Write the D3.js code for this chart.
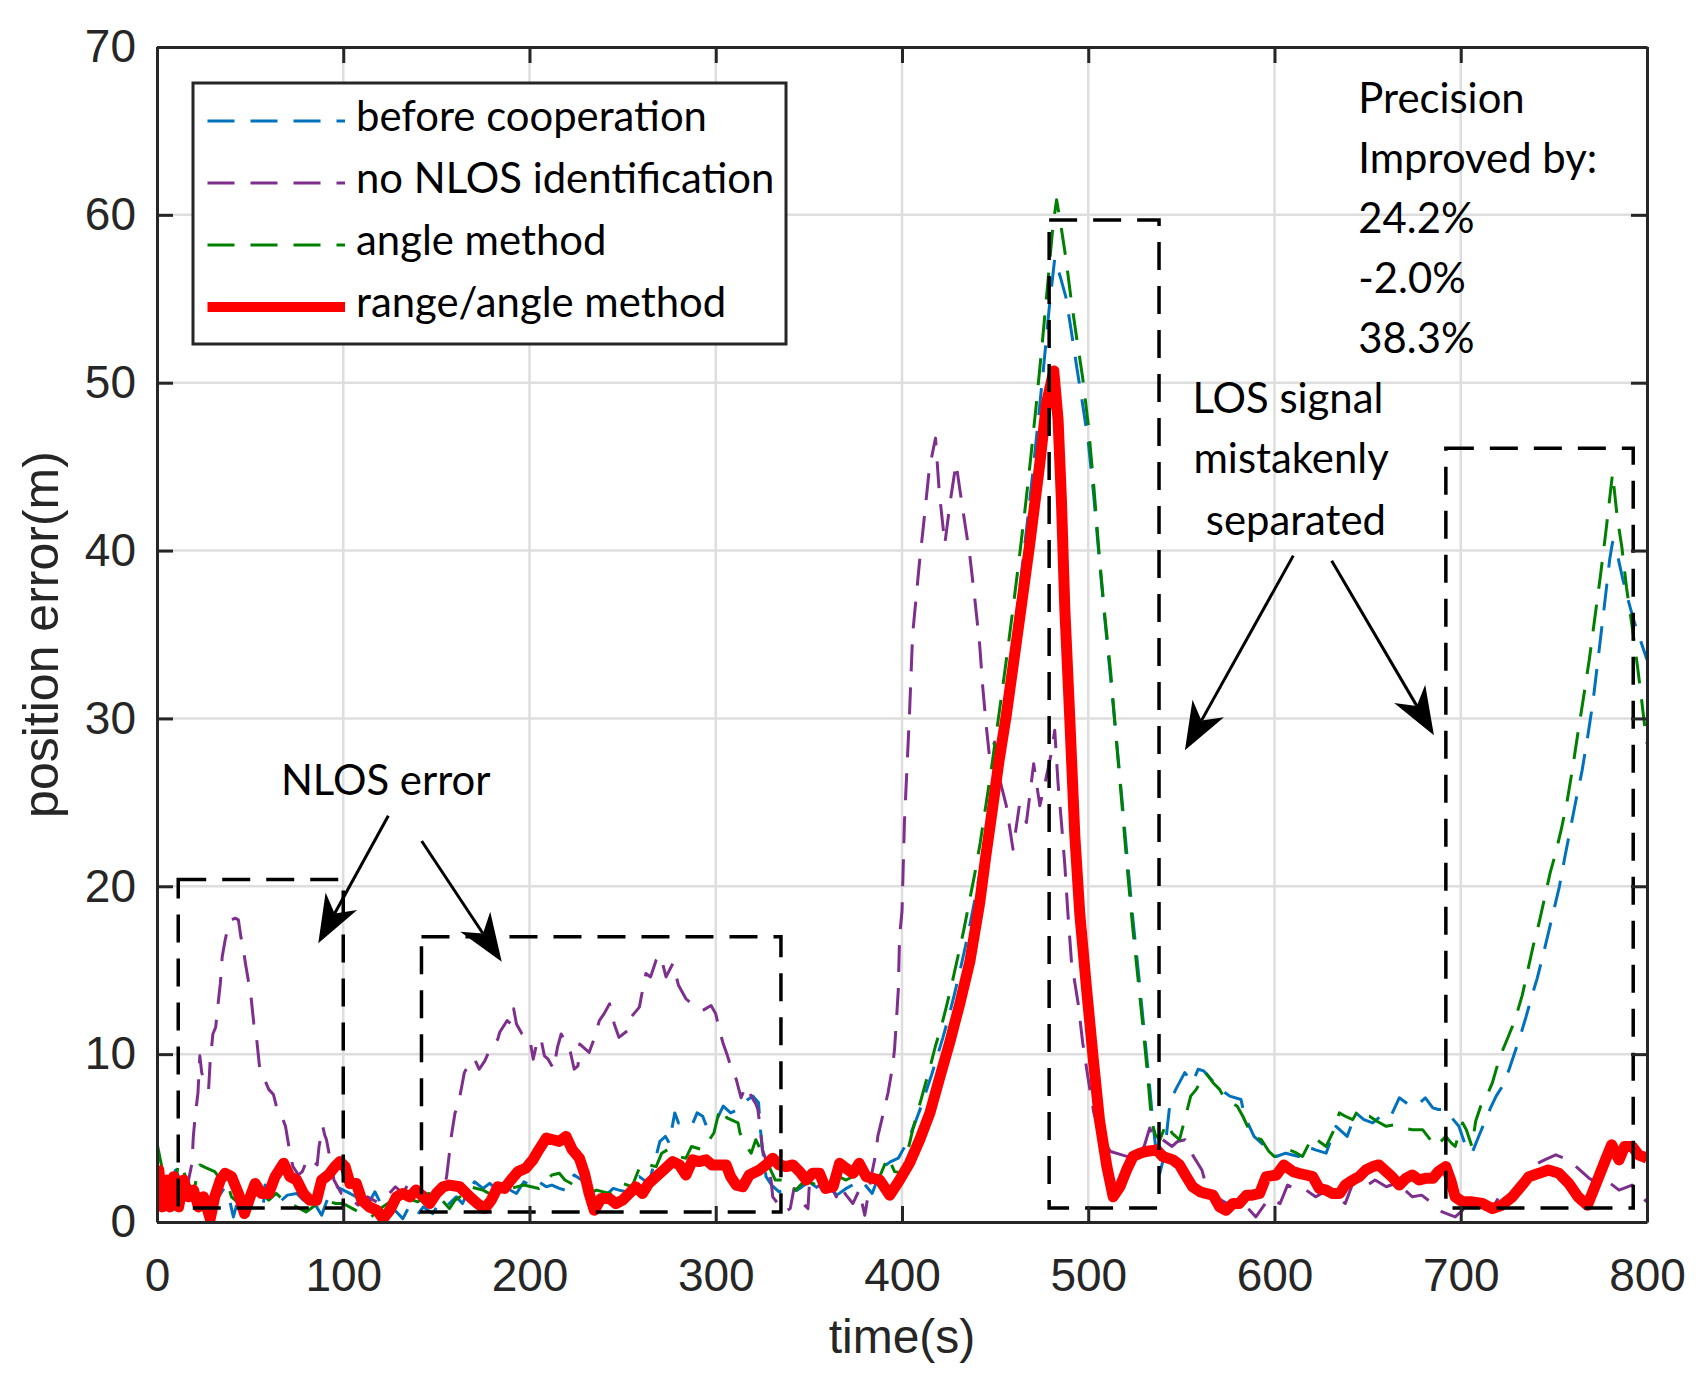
<!DOCTYPE html>
<html>
<head>
<meta charset="utf-8">
<script src="https://cdn.jsdelivr.net/npm/d3@7"></script>
<style>
  body { margin: 0; background: #fff; }
  svg { display: block; }
</style>
</head>
<body>
<svg id="chart" width="1700" height="1374"></svg>
<script>
// ---- data: [time (s), position error (m)] ----
const beforeCoop = [[0,2.5],[2,1.2],[5,1.5],[8,2.5],[10,3.1],[12.5,2.5],[15,1.8],[18,2.0],[21,1.2],[24,1.8],[26.8,1.7],[29.5,0.9],[33,1.5],[36,2.0],[39,1.3],[41,0.3],[44,1.5],[47,1.0],[50,1.8],[53.6,1.7],[57,0.9],[58,2.2],[62,1.5],[66,1.2],[70,1.6],[75,1.7],[78.6,1.3],[82,1.4],[85.7,0.9],[88.4,0.4],[92,1.5],[96.4,2.1],[100,1.9],[103.6,1.7],[107,1.5],[110.7,0.7],[114,1.2],[117,1.8],[121,0.9],[124,1.0],[127.7,0.7],[132,0.2],[134.8,0.8],[139,0.3],[143,0.9],[148,0.5],[152,1.2],[156,1.0],[160.7,1.5],[164,1.1],[167,1.8],[170.5,2.4],[175,2.0],[178.6,2.3],[183,1.9],[188,2.0],[193,1.7],[197,2.4],[202,2.1],[205,2.4],[209,2.1],[212,2.2],[216,2.0],[219,1.9],[222,2.5],[224,2.8],[228,2.5],[232,1.9],[236,1.6],[240,1.5],[245,2.0],[248,1.9],[252,1.8],[256,2.2],[259,2.7],[264,2.3],[267,3.5],[270,4.8],[273,5.1],[275,4.7],[278,6.5],[280,5.9],[284,5.8],[287,5.7],[290,6.5],[293,6.3],[295,5.7],[298,6.0],[301,6.2],[304,6.9],[308,6.5],[312,6.7],[316,7.2],[320,7.5],[323,7.1],[324,5.5],[325.5,4.0],[327,2.7],[330,2.2],[334,1.8],[337,1.9],[341,1.7],[345,2.0],[350,2.4],[355,2.0],[360,2.2],[365,1.6],[370,2.0],[375,2.3],[378,2.5],[381,2.1],[384,1.7],[387,2.6],[390,3.3],[394,3.6],[398,3.8],[401,4.4],[404,5.1],[407,5.9],[410,6.8],[413,7.8],[416,8.8],[419,9.9],[422,11.0],[425,12.2],[428,13.5],[431,14.9],[434,16.4],[437,18.0],[440,19.7],[443,21.5],[446,23.6],[449,25.8],[452,28.1],[455,30.6],[458,33.1],[461,35.8],[464,38.5],[467,41.4],[470,44.4],[473,47.6],[476,50.9],[479,54.4],[482,57.4],[485,56.3],[488,55.1],[491,53.0],[494,50.8],[497,48.7],[500,46.5],[503,43.2],[506,39.4],[509,35.8],[512,32.4],[515,28.9],[518,25.3],[521,21.6],[524,18.0],[527,14.8],[530,11.4],[532.5,8.6],[535,5.6],[537,3.7],[538.4,2.9],[540,3.6],[542,5.2],[544,7.2],[547,7.9],[551.8,8.9],[556,8.3],[559,9.1],[562,9.0],[566,8.5],[571,7.9],[576,7.5],[582,7.3],[584,6.3],[589,5.1],[593,4.7],[597,4.3],[601,3.9],[606,4.1],[613,3.9],[617,4.5],[622,4.3],[627.7,4.1],[633,5.7],[639,5.1],[643.7,6.5],[648,6.1],[652.7,5.9],[657,6.3],[662,6.2],[667,7.4],[672,7.0],[676,6.9],[681,7.4],[685,6.8],[688,6.7],[692,6.7],[696,6.1],[699,5.7],[702.7,4.5],[706,4.1],[710,5.2],[713,6.0],[716,6.8],[719,7.5],[723,8.2],[726,9.1],[729,10.1],[732,11.1],[735,12.2],[738,13.4],[741,14.5],[744,15.8],[747,17.2],[750,18.6],[753,20.0],[756,21.8],[759,23.5],[762,25.2],[765,26.8],[768,28.8],[771,31.0],[774,33.8],[777,36.6],[780,39.5],[781.5,40.5],[784,39.8],[787,38.3],[790,37.0],[793,35.8],[796,34.8],[800,33.5]];

const noNlosId = [[0,2.0],[4,1.5],[8,1.0],[12,1.2],[16,2.0],[18.8,3.5],[19.5,5.1],[20.5,6.3],[22,7.7],[23,9.9],[24,8.9],[26,8.2],[27.7,7.9],[28.5,9.5],[30,11.2],[31.5,11.6],[33,13.2],[34,14.2],[35,15.8],[36.6,16.8],[38,17.5],[40,18.0],[42,18.1],[43.7,18.0],[45,17.0],[46,16.5],[47.5,15.4],[49,14.4],[50.5,13.4],[52,11.8],[53.5,10.9],[55,9.3],[57,8.7],[60,7.9],[62.5,7.6],[65,6.5],[67,6.3],[69,5.7],[71.4,4.1],[73,3.3],[76,2.8],[78,3.0],[81,3.8],[84,3.6],[86,3.4],[87,4.5],[89,5.7],[90,5.2],[91,4.9],[93.7,3.3],[95,2.5],[99,1.7],[103,1.5],[108,1.0],[113,1.5],[118,1.2],[123,1.5],[128,2.1],[132,1.7],[136,2.5],[139,2.1],[143,1.8],[148,1.5],[152,2.0],[154,2.0],[155.5,2.7],[157,4.1],[158,5.1],[160,6.5],[161.6,6.9],[164,8.3],[165,8.9],[169,9.7],[170.5,9.7],[173,9.1],[176,9.6],[178,10.1],[183,10.9],[184,11.3],[188,12.0],[190,11.8],[191.5,12.7],[193,11.8],[196,11.2],[199,11.0],[200,11.0],[202,9.7],[203.6,10.5],[206,11.0],[208,9.9],[210,9.7],[213,9.1],[215,10.4],[217,11.2],[219.6,10.7],[222,10.1],[224,9.1],[226,9.3],[227,10.6],[232,10.1],[235,11.0],[237.5,12.0],[240,12.4],[243,13.0],[245.5,11.8],[248,11.0],[252.7,11.4],[254.5,12.2],[256,12.4],[259,12.8],[260,13.4],[262.5,14.8],[265,14.6],[268,15.6],[270,15.9],[271,15.6],[273.3,14.6],[277,15.4],[280,14.1],[284,13.3],[288,12.9],[293,12.6],[297.5,12.9],[300,12.4],[302,11.4],[303.8,10.7],[306,10.0],[308,9.3],[311,8.5],[313.6,7.4],[315,7.8],[317,8.1],[319,7.5],[321.7,7.0],[322.6,6.7],[324,5.5],[325,4.3],[327,3.7],[329.7,2.5],[330.6,1.5],[334,1.0],[337,0.6],[340,0.8],[342,2.0],[346,1.2],[349.5,0.8],[350.4,2.5],[354,2.2],[357.5,2.0],[360,1.8],[363,1.9],[364.7,1.5],[367,2.1],[370,1.6],[373.6,1.1],[377,1.9],[380,0.4],[382.6,2.1],[384,3.0],[386,4.1],[387,5.1],[390,6.5],[392.5,7.7],[395,9.3],[396,10.3],[397,12.0],[398,13.8],[398.7,17.0],[400,18.5],[401.3,23.8],[404,30.2],[405.7,35.0],[409.3,39.2],[412,42.0],[414.7,44.9],[418,46.7],[420,43.5],[423,40.4],[426,43.0],[429,45.2],[432.7,42.4],[436.3,39.8],[439,37.2],[441.7,34.4],[443.4,31.8],[445.2,29.6],[447,27.7],[449.7,28.6],[452.4,26.4],[456,24.8],[459.6,22.2],[463,24.8],[466.8,23.8],[470.7,27.3],[474,24.8],[476.7,26.1],[480.3,28.0],[482,29.3],[483.8,26.1],[485.6,23.8],[487.4,21.3],[489,18.5],[491,15.5],[494.6,13.0],[497,10.7],[500,8.5],[503,6.5],[507,5.0],[512,4.2],[518,4.0],[524,3.8],[530,4.5],[533,5.6],[536,4.9],[540,4.9],[545,4.5],[548,4.8],[552,4.9],[556,4.0],[561,3.1],[564,1.9],[568,1.5],[573,1.2],[578,0.9],[585,0.9],[590,0.3],[597,1.4],[603,1.1],[607,2.2],[613,1.9],[617,1.9],[622,1.5],[627,1.8],[631,1.7],[638,1.1],[642,2.3],[647,2.0],[650,2.2],[654,2.5],[660,2.1],[665,2.3],[670,1.9],[674,1.5],[679,1.6],[685,1.1],[690,0.6],[697,0.3],[701,0.7],[706,1.1],[711,0.9],[717,0.8],[722,1.8],[728,1.7],[733,2.5],[738,3.3],[745,3.7],[751,4.0],[758,3.7],[763,3.2],[769,2.6],[774,2.3],[778,2.5],[785,1.9],[792,2.2],[799,1.3],[800,1.2]];

const angleMethod = [[0,4.7],[1.8,3.7],[4,2.5],[7,2.0],[10,2.5],[11.6,3.5],[14,3.1],[17,2.2],[20,2.0],[23,3.4],[27,3.2],[31,3.0],[33,2.7],[37.5,2.4],[40,1.5],[45,1.0],[50,1.5],[55,1.8],[60,1.3],[64,1.7],[67,1.4],[71,1.1],[75,0.9],[80,0.6],[85,1.0],[90,1.3],[96,1.1],[100,1.1],[105,0.8],[110,0.5],[115,0.3],[120,0.8],[125,1.2],[130,1.0],[135,1.4],[140,1.2],[146,1.7],[152,1.5],[153,1.3],[157,0.8],[160,1.3],[164,1.6],[168,2.1],[175,1.9],[180,1.6],[185,1.8],[190,2.0],[197,2.2],[205,2.0],[209,2.5],[212,2.8],[216,2.9],[219,2.5],[224,2.2],[228,2.0],[232,1.7],[236,1.9],[243,1.7],[250,2.3],[255,2.1],[260,3.5],[264,3.4],[268,3.3],[271,4.1],[274,4.3],[277,4.0],[280,3.9],[284,3.8],[287,4.5],[293,4.3],[296,4.8],[299,5.3],[302,6.7],[303,6.8],[306,6.2],[312,5.9],[313,5.3],[316,4.6],[319,4.1],[321.5,4.9],[325,4.1],[327,3.7],[332,2.5],[338,2.5],[343,1.9],[348,2.5],[354,2.2],[360,2.4],[366,2.7],[370,2.5],[377,2.9],[384,2.5],[388,2.7],[392.5,3.9],[396,3.0],[400.5,2.9],[403,4.2],[406,5.6],[409,6.8],[412,8.0],[415,9.2],[418,10.5],[421,11.6],[424,12.9],[427,14.3],[430,15.8],[433,17.3],[436,19.0],[439,20.7],[442,22.6],[445,24.8],[448,27.0],[451,29.4],[454,31.8],[457,34.3],[460,36.9],[463,39.6],[466,42.4],[469,45.4],[472,48.6],[475,52.0],[478,55.6],[481,59.3],[483,60.9],[485,59.6],[488,57.4],[491,54.8],[494,52.5],[497,50.3],[500,47.5],[503,43.8],[506,39.6],[509,36.0],[512,32.8],[515,28.8],[518,25.0],[521,21.0],[524,17.4],[527,14.2],[529.6,11.4],[532,8.6],[534,6.0],[536,5.2],[538.5,4.9],[542,5.9],[545,5.3],[549,4.9],[552.7,6.5],[555,7.5],[558,7.9],[563,8.9],[567,8.3],[570.5,7.9],[573,7.4],[577,7.1],[580,6.9],[583,6.3],[588,5.1],[593,4.9],[597,4.2],[600,3.9],[604,4.0],[608,4.3],[612,4.1],[615,3.9],[620.5,5.1],[624,4.8],[627.7,4.5],[632,5.5],[634.8,6.5],[638,6.3],[642,6.1],[645,6.7],[649,6.3],[651,6.3],[655,6.0],[660,5.7],[665,5.8],[669,5.6],[674,5.5],[679.5,5.5],[683,5.0],[686.6,4.5],[692,5.1],[695,4.7],[697,4.5],[701,5.9],[703,5.5],[706,4.5],[708,6.0],[710.7,6.9],[714,7.5],[717,8.3],[719.6,9.3],[722,10.1],[725,10.9],[729,12.0],[733,13.5],[736,15.0],[739,16.5],[742,17.8],[745,19.3],[748,20.8],[751,22.0],[754,23.4],[757,25.0],[760,27.0],[763,29.2],[766,31.3],[769,33.5],[772,36.0],[775,38.5],[778,41.2],[781.5,44.6],[784,42.0],[786.5,40.2],[789,37.8],[792,35.5],[795,33.0],[797,31.2],[798.5,29.8],[800,28.5]];

const rangeAngle = [[0,3.2],[1,3.1],[2.7,0.9],[5.4,2.5],[7,0.9],[9,2.7],[11.6,0.9],[14.3,2.5],[17,1.5],[19.6,1.9],[22.3,0.9],[25,1.5],[28.6,0.2],[31,1.5],[34,2.5],[36.6,2.9],[40,2.7],[43.7,1.7],[47,0.5],[50,1.5],[52.7,2.3],[56,1.7],[60,1.7],[63.4,2.7],[68,3.5],[71.4,2.7],[75,2.5],[78.6,1.7],[82,1.3],[85.7,1.3],[88.4,2.5],[92,2.8],[95.5,3.3],[98.2,3.6],[101,3.3],[103.6,2.3],[107,2.3],[110,1.3],[114,0.9],[118,0.7],[121.4,0.2],[125,0.7],[128.6,1.5],[132,1.7],[135.7,1.5],[139,1.9],[142.9,1.5],[146.4,1.1],[150,1.7],[153.6,2.1],[157,2.2],[162.5,2.1],[168,1.5],[172,1.1],[176,0.8],[179.5,1.3],[183,2.1],[186.6,2.0],[190,2.5],[193.8,3.0],[198,3.2],[201.8,3.7],[205,4.3],[209,5.0],[212.5,4.9],[216,4.8],[219.6,5.1],[223,4.3],[226.8,3.8],[229.5,2.9],[232,1.7],[234.8,0.7],[238.4,1.4],[242.9,1.4],[246.4,1.1],[250,1.3],[253.6,1.7],[257,2.1],[260.7,1.7],[264,2.3],[268,2.7],[272,3.1],[276.9,3.6],[280.5,3.4],[284,2.8],[287.6,3.7],[291,3.6],[294.8,3.7],[298,3.4],[302,3.4],[305.6,3.4],[308,2.7],[311,2.2],[314.5,2.1],[318,2.8],[323.5,3.1],[327,3.4],[330.6,3.8],[334,3.4],[337.8,3.3],[341.4,3.4],[345,3.0],[348.6,2.5],[352,2.9],[355.7,2.9],[359,2.0],[363,2.1],[366.5,3.5],[370,3.2],[373.7,2.9],[377,3.5],[380.8,2.7],[384.4,2.6],[388,2.5],[393.4,1.6],[398.7,2.5],[404,3.5],[409.5,4.9],[415,6.5],[420,8.5],[425.6,10.7],[431,13.0],[436.4,15.5],[441.7,19.0],[445,21.8],[448.8,24.8],[452,27.4],[456,30.2],[459.6,33.1],[463.2,36.0],[468.6,40.4],[474,45.2],[477.6,48.8],[481.5,50.7],[483.8,47.8],[485.6,43.0],[487.4,36.6],[490,30.2],[492.8,23.0],[495.5,18.3],[499,14.0],[502.7,9.7],[506,6.1],[510,3.3],[513.4,1.5],[517,2.1],[520.6,3.1],[524,3.9],[527.8,4.1],[531,4.2],[536.7,4.3],[540,3.9],[545.5,3.7],[549,3.4],[552.7,2.7],[556,2.1],[560,1.8],[563,1.7],[567,1.6],[570.5,0.9],[574,0.7],[577.7,1.1],[581,1.1],[585,1.6],[588,1.6],[592,1.7],[595.5,2.7],[601,2.8],[605,3.4],[610,3.0],[613,2.9],[617,2.8],[620.5,2.7],[624,2.0],[627.7,1.9],[631,1.7],[635,1.7],[638,2.2],[642,2.5],[645.5,2.7],[649,3.1],[652.7,3.3],[656,3.4],[660,3.0],[663,2.7],[667,2.2],[670.5,2.6],[674,2.8],[677.7,2.5],[681,2.6],[685,2.6],[688,3.0],[692,3.3],[694.6,2.5],[697,1.5],[701,1.2],[706,1.2],[711.6,1.1],[717,0.8],[722,1.0],[727.7,1.5],[733,2.2],[736.6,2.7],[742,2.9],[747,3.1],[752.7,2.9],[758,2.3],[763,1.5],[768,1.0],[772,2.1],[777.7,3.7],[781,4.6],[785,3.7],[788,4.5],[792,4.5],[795.5,4.0],[800,3.8]];

const xTicks = [0, 100, 200, 300, 400, 500, 600, 700, 800];
const yTicks = [0, 10, 20, 30, 40, 50, 60, 70];

const seriesNames = ["before cooperation", "no NLOS identification", "angle method", "range/angle method"];
const seriesColors = ["#0072BD", "#7E2F8E", "#008000", "#FF0000"];

// dashed boxes: [t0, t1, v0, v1]
const nlosBoxes = [[11.4, 100, 0.83, 20.4], [142, 335, 0.6, 17.0], [479, 538, 0.83, 59.7], [692, 792.6, 0.83, 46.1]];

// arrows: [tStart, vStart, tTip, vTip]
const arrowList = [[124.2, 24.2, 86.6, 16.6], [142.1, 22.7, 185.1, 15.5], [610.1, 39.7, 551.9, 28.1], [630.7, 39.4, 685.6, 29.0]];

// free text: [label, t, v, anchor]
const notes = [
  ["NLOS error", 122.8, 25.45, "middle"],
  ["LOS signal", 607.2, 48.2, "middle"],
  ["mistakenly", 608.9, 44.6, "middle"],
  ["separated", 611.5, 40.9, "middle"],
  ["Precision", 645.0, 66.05, "start"],
  ["Improved by:", 645.0, 62.48, "start"],
  ["24.2%", 645.0, 58.92, "start"],
  ["-2.0%", 645.0, 55.35, "start"],
  ["38.3%", 645.0, 51.78, "start"]
];

// ---- layout ----
const W = 1700, H = 1374;
const margin = { top: 47, right: 53, bottom: 152, left: 157 };
const axisColor = "#262626";
const tickFont = "'Liberation Sans', Arial, sans-serif";
const noteFont = "Lato, 'Open Sans', sans-serif";

const svg = d3.select("#chart");

const x = d3.scaleLinear().domain([0, 800]).range([margin.left, W - margin.right]);
const y = d3.scaleLinear().domain([0, 70]).range([H - margin.bottom, margin.top]);

// grid
const grid = svg.append("g").attr("stroke", "#dedede").attr("stroke-width", 2.5);
grid.selectAll(".gx").data(xTicks.slice(1, -1)).join("line")
    .attr("x1", d => x(d)).attr("x2", d => x(d))
    .attr("y1", y(0)).attr("y2", y(70));
grid.selectAll(".gy").data(yTicks.slice(1, -1)).join("line")
    .attr("y1", d => y(d)).attr("y2", d => y(d))
    .attr("x1", x(0)).attr("x2", x(800));

// data lines
svg.append("clipPath").attr("id", "plotClip")
  .append("rect")
    .attr("x", x(0)).attr("y", y(70))
    .attr("width", x(800) - x(0)).attr("height", y(0) - y(70));

const line = d3.line().x(d => x(d[0])).y(d => y(d[1]));
const allSeries = [beforeCoop, noNlosId, angleMethod, rangeAngle];

const plot = svg.append("g").attr("clip-path", "url(#plotClip)");
allSeries.forEach((s, i) => {
  const isRed = i === 3;
  plot.append("path")
    .datum(s)
    .attr("fill", "none")
    .attr("stroke", seriesColors[i])
    .attr("stroke-width", isRed ? 11 : 3)
    .attr("stroke-linejoin", "round")
    .attr("stroke-dasharray", isRed ? null : "27,16")
    .attr("d", line);
});

// dashed boxes
svg.append("g").selectAll("rect").data(nlosBoxes).join("rect")
    .attr("x", d => x(d[0])).attr("y", d => y(d[3]))
    .attr("width", d => x(d[1]) - x(d[0]))
    .attr("height", d => y(d[2]) - y(d[3]))
    .attr("fill", "none").attr("stroke", "#000")
    .attr("stroke-width", 3.5).attr("stroke-dasharray", "28,16");

// axes (box with inward ticks)
function styleAxis(g) {
  g.select(".domain").attr("stroke", axisColor).attr("stroke-width", 3);
  g.selectAll(".tick line").attr("stroke", axisColor).attr("stroke-width", 3);
  g.selectAll(".tick text").attr("fill", axisColor)
    .style("font-family", tickFont).style("font-size", "46px");
}
svg.append("g").attr("transform", `translate(0,${y(0)})`)
  .call(d3.axisBottom(x).tickValues(xTicks).tickSize(-16).tickSizeOuter(0).tickPadding(36))
  .call(styleAxis);
svg.append("g").attr("transform", `translate(0,${y(70)})`)
  .call(d3.axisTop(x).tickValues(xTicks).tickSize(-16).tickSizeOuter(0).tickFormat(""))
  .call(styleAxis);
svg.append("g").attr("transform", `translate(${x(0)},0)`)
  .call(d3.axisLeft(y).tickValues(yTicks).tickSize(-16).tickSizeOuter(0).tickPadding(21))
  .call(styleAxis);
svg.append("g").attr("transform", `translate(${x(800)},0)`)
  .call(d3.axisRight(y).tickValues(yTicks).tickSize(-16).tickSizeOuter(0).tickFormat(""))
  .call(styleAxis);

// axis labels
svg.append("text")
  .attr("x", x(400)).attr("y", 1353)
  .attr("text-anchor", "middle")
  .attr("fill", axisColor)
  .style("font-family", tickFont).style("font-size", "48px")
  .text("time(s)");
svg.append("text")
  .attr("transform", `translate(58,${(y(0) + y(70)) / 2}) rotate(-90)`)
  .attr("text-anchor", "middle")
  .attr("fill", axisColor)
  .style("font-family", tickFont).style("font-size", "50px")
  .text("position error(m)");

// fit the Calibri-like font size to the reference text width
const probe = svg.append("text").style("font-family", noteFont).style("font-size", "44px").text("before cooperation");
const noteSize = 44 * 351 / probe.node().getComputedTextLength();
probe.remove();

// arrows
const arrows = svg.append("g");
arrowList.forEach(a => {
  const x0 = x(a[0]), y0 = y(a[1]), x1 = x(a[2]), y1 = y(a[3]);
  const len = Math.hypot(x1 - x0, y1 - y0);
  const ux = (x1 - x0) / len, uy = (y1 - y0) / len;
  const nx = -uy, ny = ux;
  const L = 48, Wd = 18, N = 34;
  arrows.append("line")
    .attr("x1", x0).attr("y1", y0)
    .attr("x2", x1 - ux * N).attr("y2", y1 - uy * N)
    .attr("stroke", "#000").attr("stroke-width", 3);
  const pts = [
    [x1, y1],
    [x1 - ux * L + nx * Wd, y1 - uy * L + ny * Wd],
    [x1 - ux * N, y1 - uy * N],
    [x1 - ux * L - nx * Wd, y1 - uy * L - ny * Wd]
  ];
  arrows.append("path").attr("d", "M" + pts.map(p => p.join(",")).join("L") + "Z").attr("fill", "#000");
});

// text notes
svg.append("g").selectAll("text").data(notes).join("text")
    .attr("x", d => x(d[1])).attr("y", d => y(d[2]))
    .attr("text-anchor", d => d[3])
    .attr("fill", "#000")
    .style("font-family", noteFont).style("font-size", noteSize + "px")
    .text(d => d[0]);

// legend
const legX = x(0) + 36, legY = y(70) + 36, legW = 593, legH = 261;
const legend = svg.append("g");
legend.append("rect")
  .attr("x", legX).attr("y", legY).attr("width", legW).attr("height", legH)
  .attr("fill", "#fff").attr("stroke", axisColor).attr("stroke-width", 3);
seriesNames.forEach((name, i) => {
  const ly = legY + 38 + i * 62;
  legend.append("line")
    .attr("x1", legX + 14.5).attr("x2", legX + 152)
    .attr("y1", ly).attr("y2", ly)
    .attr("stroke", seriesColors[i])
    .attr("stroke-width", i === 3 ? 10 : 3)
    .attr("stroke-dasharray", i === 3 ? null : "27,16");
  legend.append("text")
    .attr("x", legX + 163).attr("y", ly + 10)
    .attr("fill", "#000")
    .style("font-family", noteFont).style("font-size", noteSize + "px")
    .text(name);
});
</script>
</body>
</html>
